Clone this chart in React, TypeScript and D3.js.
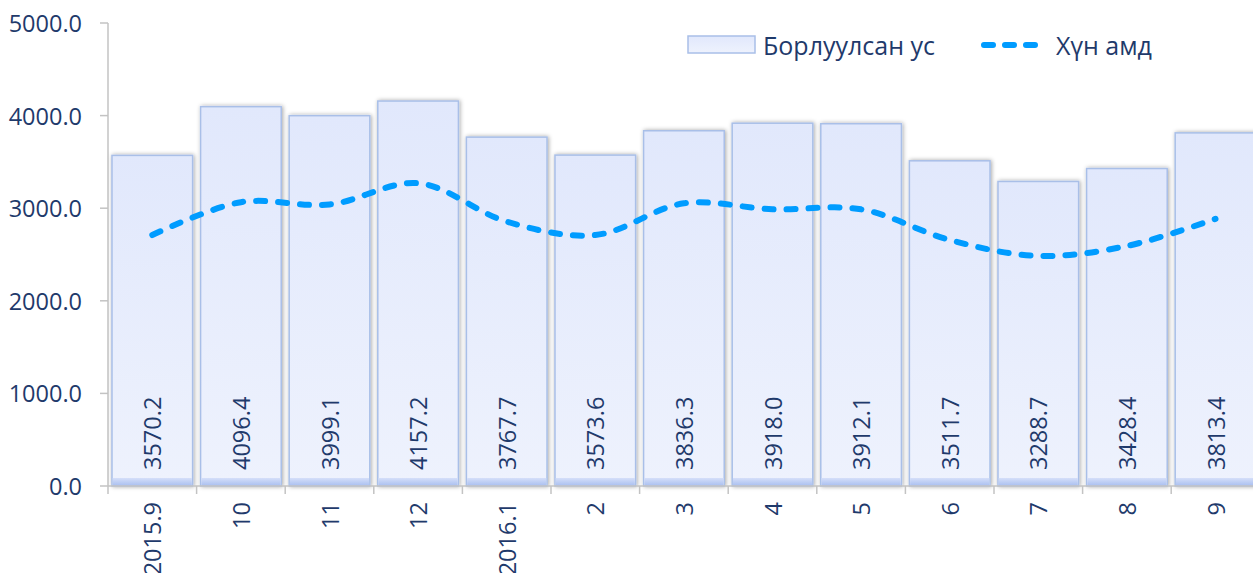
import React from "react";
import * as d3 from "d3";

const categories = ["2015.9", "10", "11", "12", "2016.1", "2", "3", "4", "5", "6", "7", "8", "9"];
const soldWater = [3570.2, 4096.4, 3999.1, 4157.2, 3767.7, 3573.6, 3836.3, 3918.0, 3912.1, 3511.7, 3288.7, 3428.4, 3813.4];
const perCapita = [2710, 3065, 3040, 3270, 2855, 2710, 3053, 2988, 2988, 2657, 2484, 2592, 2885];
const yTicks = [0, 1000, 2000, 3000, 4000, 5000];
const seriesNames = ["Борлуулсан ус", "Хүн амд"];

const W = 1253;
const H = 573;
const textColor = "#1f3a6b";
const font = "'Open Sans', sans-serif";
const numSize = 23.5;

export default function App() {
  const x = d3
    .scaleBand<string>()
    .domain(categories)
    .range([108, 108 + 13 * 88.6])
    .paddingInner(0.09)
    .paddingOuter(0.045);
  const y = d3.scaleLinear().domain([0, 5000]).range([486, 23]);
  const step = x.step();
  const fmt = d3.format(".1f");

  const line = d3
    .line<number>()
    .x((_, i) => (x(categories[i]) as number) + x.bandwidth() / 2)
    .y((d) => y(d))
    .curve(d3.curveCatmullRom.alpha(0.5));

  return (
    <svg
      width={W}
      height={H}
      style={{ position: "absolute", left: 0, top: 0, background: "#fff" }}
      fontFamily={font}
    >
      <defs>
        <linearGradient id="barFill" x1="0" y1="0" x2="0" y2="1">
          <stop offset="0%" stopColor="#e1e8fc" />
          <stop offset="100%" stopColor="#eef2fd" />
        </linearGradient>
        <linearGradient id="barBase" x1="0" y1="0" x2="0" y2="1">
          <stop offset="0%" stopColor="#d5dff9" />
          <stop offset="100%" stopColor="#a8bef0" />
        </linearGradient>
        <filter id="shadow" x="-10%" y="-10%" width="120%" height="120%">
          <feDropShadow dx="1" dy="0" stdDeviation="2.2" floodColor="#000" floodOpacity="0.35" />
        </filter>
      </defs>

      {/* y axis */}
      <line x1={108} x2={108} y1={23} y2={486} stroke="#c3c3c3" strokeWidth={1.5} />
      {yTicks.map((t) => (
        <g key={t}>
          <line x1={100} x2={108} y1={y(t)} y2={y(t)} stroke="#c3c3c3" strokeWidth={1.5} />
          <text x={82} y={y(t)} textAnchor="end" dominantBaseline="central" fontSize={numSize} fill={textColor}>
            {fmt(t)}
          </text>
        </g>
      ))}

      {/* bars */}
      {categories.map((c, i) => {
        const bx = x(c) as number;
        const by = y(soldWater[i]);
        return (
          <g key={c}>
            <rect
              x={bx}
              y={by}
              width={x.bandwidth()}
              height={y(0) - by}
              fill="url(#barFill)"
              stroke="#a9bfe8"
              strokeWidth={1.5}
              filter="url(#shadow)"
            />
            <rect x={bx + 0.75} y={y(0) - 8} width={x.bandwidth() - 1.5} height={8} fill="url(#barBase)" />
          </g>
        );
      })}

      {/* x axis */}
      <line x1={108} x2={W} y1={486} y2={486} stroke="#c3c3c3" strokeWidth={1.5} />
      {d3.range(categories.length + 1).map((i) => (
        <line key={i} x1={108 + i * step} x2={108 + i * step} y1={486} y2={494} stroke="#c3c3c3" strokeWidth={1.5} />
      ))}
      {categories.map((c) => {
        const cx = (x(c) as number) + x.bandwidth() / 2;
        return (
          <text
            key={c}
            transform={`translate(${cx},502) rotate(-90)`}
            textAnchor="end"
            dominantBaseline="central"
            fontSize={numSize}
            fill={textColor}
          >
            {c}
          </text>
        );
      })}

      {/* value labels */}
      {categories.map((c, i) => {
        const cx = (x(c) as number) + x.bandwidth() / 2;
        return (
          <text
            key={c}
            transform={`translate(${cx},470) rotate(-90)`}
            textAnchor="start"
            dominantBaseline="central"
            fontSize={numSize}
            fill={textColor}
          >
            {fmt(soldWater[i])}
          </text>
        );
      })}

      {/* line */}
      <path
        d={line(perCapita) as string}
        fill="none"
        stroke="#009cff"
        strokeWidth={6}
        strokeLinecap="round"
        strokeDasharray="9 13"
      />

      {/* legend */}
      <rect x={688} y={36} width={67} height={17} fill="url(#barFill)" stroke="#a9bfe8" strokeWidth={1.5} />
      <text x={763} y={45} dominantBaseline="central" fontSize={25} fill={textColor}>
        {seriesNames[0]}
      </text>
      <line
        x1={984}
        x2={1041}
        y1={45}
        y2={45}
        stroke="#009cff"
        strokeWidth={6}
        strokeLinecap="round"
        strokeDasharray="9 12"
      />
      <text x={1056} y={45} dominantBaseline="central" fontSize={25} fill={textColor}>
        {seriesNames[1]}
      </text>
    </svg>
  );
}
